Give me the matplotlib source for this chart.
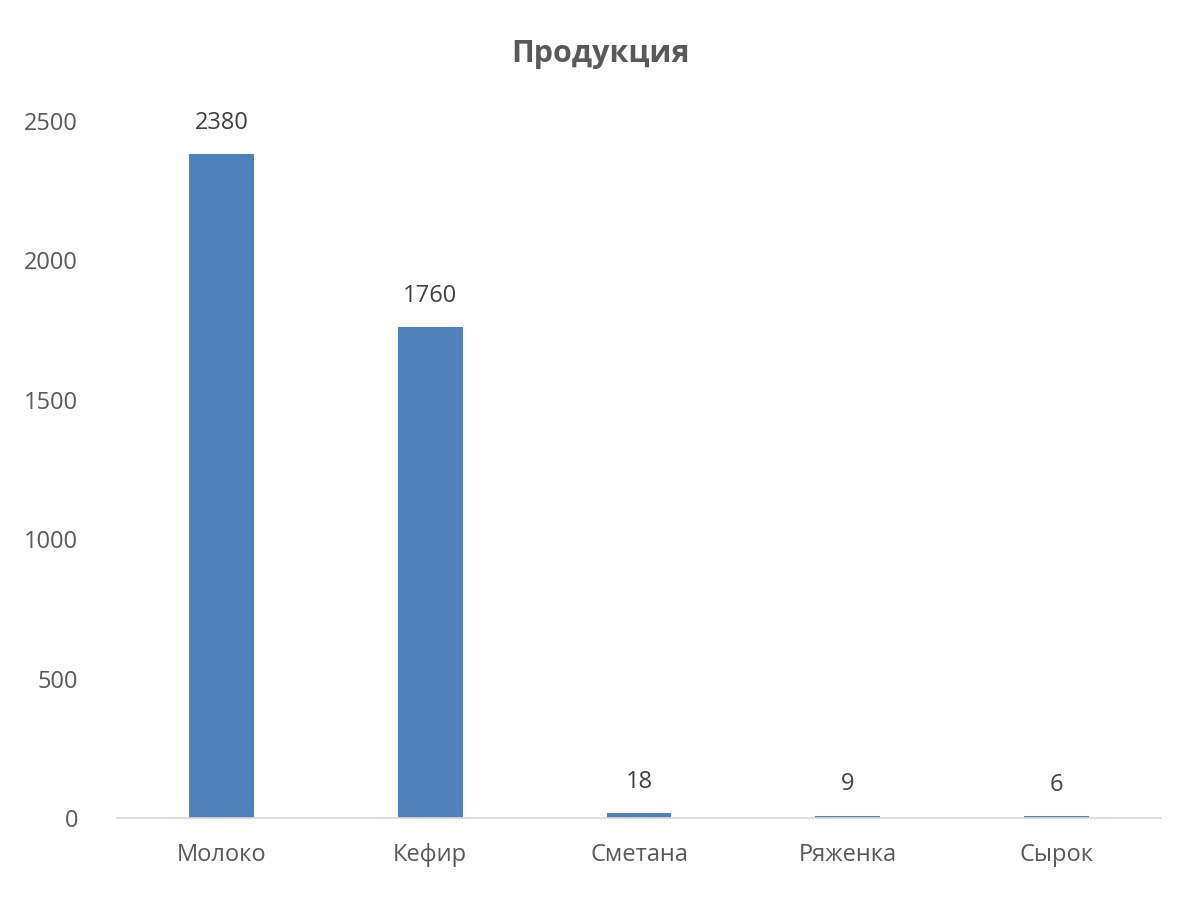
import matplotlib
matplotlib.use("Agg")
import matplotlib.pyplot as plt

plt.rcParams['font.family'] = ['Open Sans', 'DejaVu Sans']

products = ['Молоко', 'Кефир', 'Сметана', 'Ряженка', 'Сырок']
values = [2380, 1760, 18, 9, 6]
yticks = [0, 500, 1000, 1500, 2000, 2500]

gray = '#595959'

fig = plt.figure(figsize=(12, 9), dpi=100)
ax = fig.add_axes([0.0975, 0.091, 0.87, 0.7746])

x = range(len(products))
bars = ax.bar(x, values, width=0.31, color='#4F81BD')
for b, v in zip(bars, values):
    ax.text(b.get_x() + b.get_width() / 2, v + 70, str(v),
            ha='center', va='bottom', fontsize=17, color='#404040')

ax.set_xlim(-0.5, len(products) - 0.5)
ax.set_ylim(0, 2500)
ax.set_yticks(yticks)
ax.set_xticks(list(x))
ax.set_xticklabels(products)
ax.tick_params(axis='both', length=0, labelsize=17, labelcolor=gray)
ax.tick_params(axis='x', pad=18)
ax.tick_params(axis='y', pad=28)

for s in ['top', 'right', 'left']:
    ax.spines[s].set_visible(False)
ax.spines['bottom'].set_color('#D9D9D9')
ax.spines['bottom'].set_linewidth(1.2)

fig.text(0.5, 0.94, 'Продукция', ha='center', va='center',
         fontsize=22, fontweight='bold', color=gray)

fig.savefig('out.png', dpi=100)
